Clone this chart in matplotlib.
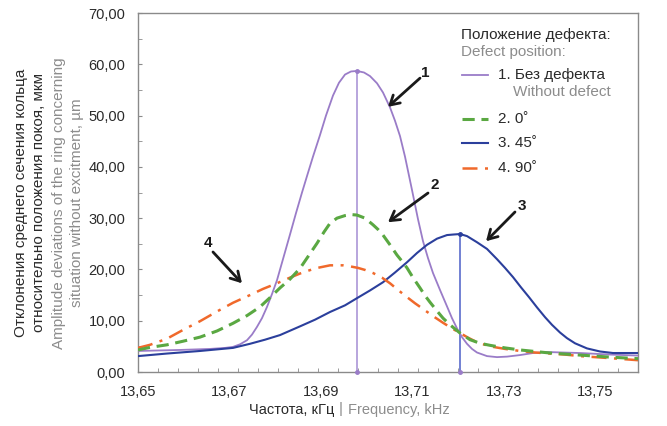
import matplotlib
matplotlib.use("Agg")
import matplotlib.pyplot as plt
from matplotlib.lines import Line2D
import numpy as np

plt.rcParams['font.family'] = ['Liberation Sans', 'DejaVu Sans']

# ---------------- data ----------------
x_none = [13.65000, 13.65918, 13.66574, 13.66902, 13.67077, 13.67230, 13.67383,
          13.67492, 13.67601, 13.67710, 13.67820, 13.67929, 13.68038, 13.68169,
          13.68322, 13.68454, 13.68585, 13.68694, 13.68825, 13.68978, 13.69109,
          13.69262, 13.69393, 13.69525, 13.69656, 13.69787, 13.69940, 13.70071,
          13.70224, 13.70355, 13.70508, 13.70617, 13.70727, 13.70836, 13.70989,
          13.71120, 13.71230, 13.71339, 13.71448, 13.71601, 13.71754, 13.71863,
          13.71973, 13.72082, 13.72191, 13.72301, 13.72410, 13.72628, 13.72847,
          13.73066, 13.73350, 13.73634, 13.73940, 13.74290, 13.74661, 13.75317,
          13.75929]
y_none = [4.1, 4.3, 4.5, 4.7, 4.9, 5.4, 6.2,
          7.3, 8.8, 10.5, 12.7, 15.2, 17.9, 22.0,
          26.8, 31.0, 35.0, 38.2, 42.0, 46.2, 50.0,
          53.9, 56.4, 58.0, 58.6, 58.7, 58.4, 57.7,
          56.3, 54.5, 51.6, 49.0, 46.0, 42.0, 35.5,
          29.8, 25.5, 22.2, 19.3, 16.0, 12.8, 10.5,
          8.5, 6.8, 5.5, 4.5, 3.8, 3.1, 2.9,
          3.0, 3.3, 3.7, 3.9, 3.8, 3.7, 3.4,
          3.2]

x_0 = [13.65000, 13.65262, 13.65634, 13.65984, 13.66355, 13.66727, 13.67077,
       13.67383, 13.67667, 13.67885, 13.68104, 13.68322, 13.68541, 13.68716,
       13.68913, 13.69066, 13.69197, 13.69350, 13.69525, 13.69656, 13.69787,
       13.69962, 13.70137, 13.70246, 13.70355, 13.70508, 13.70661, 13.70770,
       13.70880, 13.71011, 13.71164, 13.71273, 13.71383, 13.71536, 13.71667,
       13.71820, 13.72038, 13.72257, 13.72475, 13.72694, 13.73022, 13.73350,
       13.73678, 13.74005, 13.74333, 13.74661, 13.75317, 13.75929]
y_0 = [4.3, 4.8, 5.3, 6.0, 6.8, 8.0, 9.5,
       11.0, 12.7, 14.5, 16.4, 18.1, 20.2, 22.5,
       25.1, 27.3, 29.0, 30.0, 30.5, 30.7, 30.6,
       30.0, 28.7, 27.8, 26.7, 24.8, 22.8, 21.6,
       20.3, 18.4, 16.4, 14.9, 13.6, 11.9, 10.5,
       9.2, 7.6, 6.3, 5.6, 5.2, 4.7, 4.3,
       4.0, 3.7, 3.5, 3.3, 2.9, 2.6]

x_45 = [13.65000, 13.65634, 13.66355, 13.67077, 13.67448, 13.67776, 13.68104,
        13.68541, 13.68869, 13.69197, 13.69525, 13.69787, 13.70071, 13.70355,
        13.70617, 13.70880, 13.71098, 13.71317, 13.71536, 13.71754, 13.71885,
        13.72038, 13.72191, 13.72410, 13.72628, 13.72847, 13.73022, 13.73197,
        13.73372, 13.73546, 13.73721, 13.73896, 13.74049, 13.74224, 13.74377,
        13.74552, 13.74814, 13.75098, 13.75383, 13.75645, 13.75929]
y_45 = [3.1, 3.6, 4.1, 4.7, 5.5, 6.3, 7.2,
        8.9, 10.2, 11.7, 13.0, 14.4, 15.9, 17.5,
        19.4, 21.4, 23.2, 24.8, 26.0, 26.7, 26.8,
        26.9, 26.5, 25.3, 24.0, 22.0, 20.3, 18.5,
        16.5, 14.6, 12.6, 10.7, 9.2, 7.7, 6.6,
        5.6, 4.6, 4.0, 3.7, 3.7, 3.7]

x_90 = [13.65000, 13.65262, 13.65634, 13.65984, 13.66355, 13.66727, 13.67077,
        13.67448, 13.67732, 13.68038, 13.68322, 13.68541, 13.68869, 13.69197,
        13.69481, 13.69634, 13.69809, 13.69962, 13.70137, 13.70333, 13.70508,
        13.70683, 13.70880, 13.71055, 13.71230, 13.71448, 13.71667, 13.71863,
        13.72038, 13.72213, 13.72410, 13.72694, 13.73022, 13.73350, 13.73678,
        13.74005, 13.74333, 13.74661, 13.75317, 13.75929]
y_90 = [4.7, 5.3, 6.5, 8.2, 9.9, 11.8, 13.5,
        15.0, 16.2, 17.3, 18.4, 19.2, 20.2, 20.8,
        20.8, 20.6, 20.3, 19.9, 19.3, 18.4, 17.3,
        16.0, 14.6, 13.4, 12.3, 10.9, 9.6, 8.5,
        7.6, 6.7, 5.8, 5.0, 4.5, 4.1, 3.8,
        3.6, 3.4, 3.1, 2.7, 2.3]

x_ticks = [13.65, 13.67, 13.69, 13.71, 13.73, 13.75]
y_ticks = [0, 10, 20, 30, 40, 50, 60, 70]

# ---------------- style ----------------
C_PURPLE = '#9a7cc8'
C_PURPLE_L = '#b8a5dd'
C_GREEN = '#5aa842'
C_BLUE = '#2b3f9c'
C_ORANGE = '#f0692b'
C_GRAY = '#8c8c8c'
C_TXT = '#2a2a2a'

W, H = 667, 426
fig = plt.figure(figsize=(W / 100, H / 100), dpi=100)
ax = fig.add_axes([138 / W, (H - 372) / H, 500 / W, 359 / H])

x_right = 13.65 + 500 * 0.02 / 91.5
ax.set_xlim(13.65, x_right)
ax.set_ylim(0, 70)

# drop lines at peaks
i1 = int(np.argmax(y_none))
i3 = int(np.argmax(y_45))
ax.vlines(x_none[i1], 0, y_none[i1], color=C_PURPLE_L, lw=1.4, zorder=2)
ax.vlines(x_45[i3], 0, y_45[i3], color='#5a6ccc', lw=1.2, zorder=2)
ax.plot([x_none[i1]], [0], 'o', ms=2.5, color=C_PURPLE, zorder=3, clip_on=False)
ax.plot([x_45[i3]], [0], 'o', ms=2.5, color=C_PURPLE, zorder=3, clip_on=False)

common = dict(solid_joinstyle='round', dash_joinstyle='round')
l1, = ax.plot(x_none, y_none, color=C_PURPLE, lw=1.3, zorder=4, **common)
l3, = ax.plot(x_45, y_45, color=C_BLUE, lw=1.5, zorder=4, **common)
l4, = ax.plot(x_90, y_90, color=C_ORANGE, lw=1.8, zorder=5,
              dashes=(6, 3, 1.2, 3), **common)
l2, = ax.plot(x_0, y_0, color=C_GREEN, lw=2.2, zorder=6, dashes=(4, 2.2),
              **common)
ax.plot([x_none[i1]], [y_none[i1]], 'o', ms=2.5, color=C_PURPLE, zorder=7)
ax.plot([x_45[i3]], [y_45[i3]], 'o', ms=2.5, color=C_BLUE, zorder=7)

# axes styling
for s in ax.spines.values():
    s.set_color('#8a8a8a')
    s.set_linewidth(1.0)
ax.set_xticks(x_ticks)
ax.set_xticklabels([f"{v:.2f}".replace('.', ',') for v in x_ticks])
ax.set_yticks(y_ticks)
ax.set_yticklabels([f"{v:.2f}".replace('.', ',') for v in y_ticks])
step = 20 * 0.02 / 91.5
ax.set_xticks(np.arange(13.65 + step, x_right - 1e-6, step), minor=True)
ax.set_yticks(np.arange(5, 70, 5), minor=True)
ax.tick_params(axis='x', which='major', length=0, pad=9, labelsize=10.5,
               colors=C_TXT)
ax.tick_params(axis='y', which='major', direction='in', length=3, pad=9,
               labelsize=10.5, colors=C_TXT)
ax.tick_params(which='minor', direction='in', length=3, color='#8a8a8a')
ax.tick_params(axis='y', which='major', color='#8a8a8a')

# arrows
arrows = [("1", (13.71273, 58.3), (13.71164, 57.3), (13.70464, 51.7)),
          ("2", (13.71492, 36.5), (13.71339, 34.9), (13.70464, 29.2)),
          ("3", (13.73393, 32.4), (13.73240, 31.2), (13.72607, 25.5)),
          ("4", (13.66530, 25.1), (13.66639, 23.4), (13.67273, 17.3))]
for lab, tpos, tail, head in arrows:
    ax.annotate("", xy=head, xytext=tail,
                arrowprops=dict(arrowstyle='->,head_length=0.65,head_width=0.38',
                                color='#1a1a1a', lw=2.0, shrinkA=0, shrinkB=0),
                zorder=8)
    ax.text(tpos[0], tpos[1], lab, fontsize=11, fontweight='bold',
            color='#1a1a1a', ha='center', va='center', zorder=8)

# x label
fig.text(334 / W, 1 - 410 / H, "Частота, кГц", ha='right', va='center',
         fontsize=10.5, color=C_TXT)
fig.text(341 / W, 1 - 409 / H, "|", ha='center', va='center',
         fontsize=11, color=C_GRAY)
fig.text(348 / W, 1 - 410 / H, "Frequency, kHz", ha='left', va='center',
         fontsize=10.5, color=C_GRAY)

# y label (four lines)
ycen = 1 - 203 / H
fig.text(21 / W, ycen, "Отклонения среднего сечения кольца", rotation=90,
         ha='center', va='center', fontsize=11, color=C_TXT)
fig.text(39 / W, ycen, "относительно положения покоя, мкм", rotation=90,
         ha='center', va='center', fontsize=11, color=C_TXT)
fig.text(59 / W, ycen, "Amplitude deviations of the ring concerning",
         rotation=90, ha='center', va='center', fontsize=11, color=C_GRAY)
fig.text(77 / W, ycen, "situation without excitment, µm", rotation=90,
         ha='center', va='center', fontsize=11, color=C_GRAY)

# legend (manual)
fig.text(461 / W, 1 - 35 / H, "Положение дефекта:", ha='left', va='center',
         fontsize=11, color=C_TXT)
fig.text(461 / W, 1 - 52 / H, "Defect position:", ha='left', va='center',
         fontsize=11, color=C_GRAY)
entries = [(l1, "1. Без дефекта", 75), (l2, "2. 0˚", 119),
           (l3, "3. 45˚", 143), (l4, "4. 90˚", 168)]
for ln, txt, yy in entries:
    key = Line2D([462 / W, 488 / W], [1 - yy / H, 1 - yy / H],
                 transform=fig.transFigure, color=ln.get_color(),
                 lw=ln.get_linewidth(), linestyle=ln.get_linestyle())
    if ln is l2:
        key.set_dashes((4, 2.2))
    if ln is l4:
        key.set_dashes((6, 3, 1.2, 3))
    fig.add_artist(key)
    fig.text(498 / W, 1 - yy / H, txt, ha='left', va='center',
             fontsize=11, color=C_TXT)
fig.text(513 / W, 1 - 92 / H, "Without defect", ha='left', va='center',
         fontsize=11, color=C_GRAY)

fig.savefig("out.png", dpi=100)
